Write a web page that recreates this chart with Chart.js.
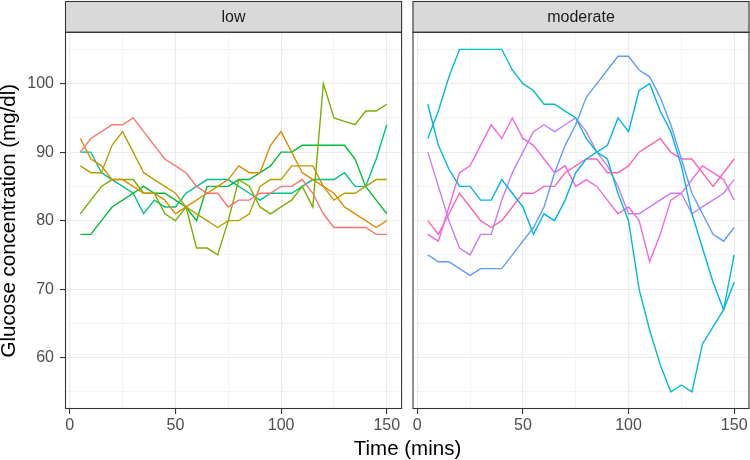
<!DOCTYPE html>
<html>
<head>
<meta charset="utf-8">
<script src="https://cdn.jsdelivr.net/npm/chart.js@4.4.0/dist/chart.umd.min.js"></script>
<style>
  body { margin: 0; background: #fff; }
  #wrap { position: relative; width: 750px; height: 460px; font-family: "Liberation Sans", Arial, sans-serif; }
  #lowBox { position: absolute; left: 0; top: 0; width: 405px; height: 460px; }
  #modBox { position: absolute; left: 405px; top: 0; width: 345px; height: 460px; }
  #xTitle { position: absolute; left: 0; width: 815px; top: 436px; text-align: center; font-size: 20.5px; line-height: 24px; color: #000; }
</style>
</head>
<body>
<div id="wrap">
  <div id="lowBox"><canvas id="lowChart"></canvas></div>
  <div id="modBox"><canvas id="modChart"></canvas></div>
  <div id="xTitle">Time (mins)</div>
</div>
<script>
// sampling times (mins)
const times = [5, 10, 15, 20, 25, 30, 35, 40, 45, 50, 55, 60, 65, 70, 75, 80, 85, 90, 95, 100, 105, 110, 115, 120, 125, 130, 135, 140, 145, 150];

const panelNames = ['low', 'moderate'];

// grid positions; only the major ones get a label
const xTicks = [0, 25, 50, 75, 100, 125, 150];
const xLabels = ['0', '', '50', '', '100', '', '150'];
const yTicks = [55, 60, 65, 70, 75, 80, 85, 90, 95, 100, 105];
const yLabels = ['', '60', '', '70', '', '80', '', '90', '', '100', ''];

// low panel subjects
const low1 = [90, 92, 93, 94, 94, 95, 93, 91, 89, 88, 87, 85, 84, 84, 82, 83, 83, 84, 84, 85, 85, 86, 84, 81, 79, 79, 79, 79, 78, 78];
const low2 = [92, 89, 88, 86, 86, 85, 84, 84, 83, 81, 82, 83, 84, 85, 86, 88, 87, 87, 91, 93, 90, 87, 86, 85, 84, 82, 81, 80, 79, 80];
const low3 = [88, 87, 87, 91, 93, 90, 87, 86, 85, 84, 82, 81, 80, 79, 80, 80, 81, 85, 86, 86, 88, 88, 88, 85, 83, 84, 84, 85, 86, 86];
const low4 = [81, 83, 85, 86, 86, 86, 84, 84, 81, 80, 82, 76, 76, 75, 80, 86, 85, 82, 81, 82, 83, 85, 82, 100, 95, 94.5, 94, 96, 96, 97];
const low5 = [78, 78, 80, 82, 83, 84, 85, 84, 84, 83, 82, 80, 85, 85, 85, 86, 86, 87, 88, 90, 90, 91, 91, 91, 91, 91, 89, 85, 83, 81];
const low6 = [90, 90, 87, 86, 85, 84, 81, 83, 82, 82, 84, 85, 86, 86, 86, 85, 84, 83, 84, 84, 84, 85, 86, 86, 86, 87, 85, 85, 89, 94];

// moderate panel subjects
const mod1 = [92, 96, 101, 105, 105, 105, 105, 105, 102, 100, 99, 97, 97, 96, 95, 92, 90, 89, 84, 80, 70, 64, 59, 55, 56, 55, 62, 64.5, 67, 75];
const mod2 = [97, 91, 87.5, 85, 85, 83, 83, 86, 84, 82, 78, 81, 80, 83, 87, 89, 90, 91, 95, 93, 99, 100, 96, 93, 88, 81, 76, 71, 67, 71];
const mod3 = [75, 74, 74, 73, 72, 73, 73, 73, 75, 77, 79, 82, 87, 91, 94, 98, 100, 102, 104, 104, 102, 101, 98, 94, 89, 84, 81, 78, 77, 79];
const mod4 = [90, 85, 80, 76, 75, 78, 78, 83, 87, 90, 93, 94, 93, 94, 95, 93, 90, 88, 85, 81, 81, 82, 83, 84, 84, 81, 82, 83, 84, 86];
const mod5 = [78, 77, 82, 87, 88, 91, 94, 92, 95, 92, 91, 89, 87, 88, 85, 86, 85, 83, 81, 82, 80, 74, 78, 83, 84, 86, 88, 87, 86, 83];
const mod6 = [80, 78, 81, 84, 82, 80, 79, 80, 82, 84, 84, 85, 85, 87, 88, 89, 89, 87, 87, 88, 90, 91, 92, 90, 89, 89, 87, 85, 87, 89];

const lowColors = ['#F8766D', '#DE8C00', '#B79F00', '#7CAE00', '#00BA38', '#00C08B'];
const modColors = ['#00BFC4', '#00B4F0', '#619CFF', '#C77CFF', '#F564E3', '#FF64B0'];

const font = '"Liberation Sans", Arial, sans-serif';

function makeSets(series, colors) {
    return series.map(function(vals, i) {
        return {
            data: vals.map(function(v, j) { return { x: times[j], y: v }; }),
            borderColor: colors[i],
            borderWidth: 1.4,
            pointRadius: 0,
            tension: 0,
            fill: false
        };
    });
}

// strip on top + dark border round the panel
const panelFrame = {
    id: 'panelFrame',
    afterDatasetsDraw(chart, args, opts) {
        const ctx = chart.ctx;
        const a = chart.chartArea;
        ctx.save();
        ctx.fillStyle = '#D9D9D9';
        ctx.fillRect(a.left, 1, a.right - a.left, a.top - 1);
        ctx.strokeStyle = '#333333';
        ctx.lineWidth = 1.07;
        ctx.strokeRect(a.left + 0.5, 1.5, a.right - a.left - 1, a.top - 1.5);
        ctx.strokeRect(a.left + 0.5, a.top, a.right - a.left - 1, a.bottom - a.top - 0.5);
        ctx.fillStyle = '#1A1A1A';
        ctx.font = '16px ' + font;
        ctx.textAlign = 'center';
        ctx.textBaseline = 'middle';
        ctx.fillText(opts.label, (a.left + a.right) / 2, (a.top + 1) / 2 + 0.5);
        ctx.restore();
    }
};

function labelFor(vals, labels, v) {
    const i = vals.indexOf(v);
    return i < 0 ? '' : labels[i];
}

function makeChart(id, series, colors, label, showY) {
    const yWidth = showY ? 65 : 7.5;
    const rightPad = showY ? 2.9 : 0.5;
    return new Chart(document.getElementById(id).getContext('2d'), {
        type: 'line',
        data: { datasets: makeSets(series, colors) },
        plugins: [panelFrame],
        options: {
            responsive: true,
            maintainAspectRatio: false,
            animation: false,
            layout: { padding: { top: 32.3, right: rightPad, bottom: 0, left: 0 } },
            plugins: {
                legend: { display: false },
                tooltip: { enabled: false },
                panelFrame: { label: label }
            },
            scales: {
                x: {
                    type: 'linear',
                    min: -2.25,
                    max: 157.25,
                    afterBuildTicks: function(s) { s.ticks = xTicks.map(function(v) { return { value: v }; }); },
                    afterFit: function(s) { s.height = 51; },
                    border: { display: false },
                    grid: {
                        color: '#EBEBEB',
                        lineWidth: function(c) { return labelFor(xTicks, xLabels, c.tick.value) ? 1.1 : 0.55; },
                        tickColor: function(c) { return labelFor(xTicks, xLabels, c.tick.value) ? '#333333' : 'rgba(0,0,0,0)'; },
                        tickLength: 5,
                        tickWidth: 1.07
                    },
                    ticks: {
                        maxRotation: 0,
                        autoSkip: false,
                        padding: 2,
                        color: '#4D4D4D',
                        font: { family: font, size: 16 },
                        callback: function(v) { return labelFor(xTicks, xLabels, v); }
                    }
                },
                y: {
                    min: 52.5,
                    max: 107.5,
                    afterBuildTicks: function(s) { s.ticks = yTicks.map(function(v) { return { value: v }; }); },
                    afterFit: function(s) { s.width = yWidth; },
                    border: { display: false },
                    grid: {
                        color: '#EBEBEB',
                        lineWidth: function(c) { return labelFor(yTicks, yLabels, c.tick.value) ? 1.1 : 0.55; },
                        tickColor: function(c) { return (showY && labelFor(yTicks, yLabels, c.tick.value)) ? '#333333' : 'rgba(0,0,0,0)'; },
                        tickLength: showY ? 5 : 0,
                        tickWidth: 1.07
                    },
                    ticks: {
                        display: showY,
                        autoSkip: false,
                        padding: 6,
                        color: '#4D4D4D',
                        font: { family: font, size: 16 },
                        callback: function(v) { return labelFor(yTicks, yLabels, v); }
                    },
                    title: {
                        display: showY,
                        text: 'Glucose concentration (mg/dl)',
                        color: '#000000',
                        font: { family: font, size: 20.5, lineHeight: 1 },
                        padding: { top: -1, bottom: 0 }
                    }
                }
            }
        }
    });
}

window.onload = function() {
    makeChart('lowChart', [low1, low2, low3, low4, low5, low6], lowColors, panelNames[0], true);
    makeChart('modChart', [mod1, mod2, mod3, mod4, mod5, mod6], modColors, panelNames[1], false);
};
</script>
</body>
</html>
